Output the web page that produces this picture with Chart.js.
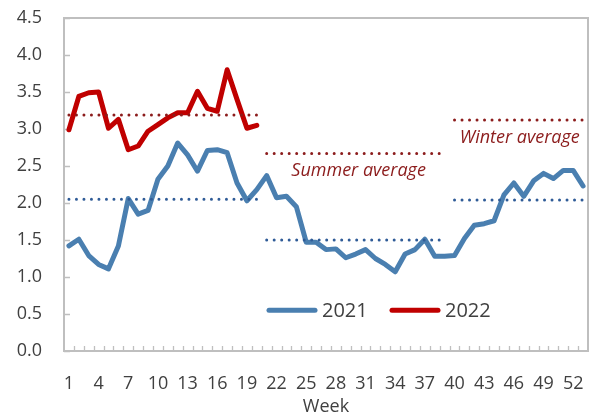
<!DOCTYPE html>
<html>
<head>
<meta charset="utf-8">
<script src="https://cdn.jsdelivr.net/npm/chart.js@4.4.0/dist/chart.umd.min.js"></script>
<style>
html,body{margin:0;padding:0;background:#fff;}
#wrap{width:590px;height:414px;position:relative;}
</style>
</head>
<body>
<div id="wrap"><canvas id="c" width="590" height="414"></canvas></div>
<script>
// ---- Data ----
const weeks = Array.from({length: 53}, (_, i) => String(i + 1));
const series2021 = [1.42,1.51,1.29,1.17,1.11,1.42,2.06,1.85,1.90,2.32,
                    2.50,2.81,2.65,2.43,2.71,2.72,2.68,2.27,2.03,2.18,
                    2.37,2.07,2.09,1.95,1.47,1.47,1.37,1.38,1.26,1.31,
                    1.37,1.25,1.17,1.07,1.31,1.37,1.51,1.28,1.28,1.29,
                    1.52,1.70,1.72,1.76,2.11,2.27,2.09,2.30,2.40,2.33,
                    2.44,2.44,2.23];
const series2022 = [2.99,3.44,3.49,3.50,3.01,3.13,2.72,2.77,2.97,3.06,
                    3.15,3.22,3.22,3.51,3.28,3.24,3.80,3.40,3.01,3.05];
const periodStart = [1, 21, 40];
const periodEnd   = [20, 39, 53];
const avg2021 = [2.05, 1.50, 2.04];
const avg2022 = [3.19, 2.67, 3.12];
const noteText = ["Summer average", "Winter average"];
const noteWeek = [30.3, 46.6];
const noteValue = [2.43, 2.88];
const yTicks = [0, 0.5, 1, 1.5, 2, 2.5, 3, 3.5, 4, 4.5];

const BLUE = '#4a7fb0', RED = '#c00000', DBLUE = '#2f5b97', DRED = '#8c1c1c';
const FONT = "'Open Sans', 'Noto Sans', sans-serif";

function periodData(avgs, p) {
  return weeks.map((w, i) => (i + 1 >= periodStart[p] && i + 1 <= periodEnd[p]) ? avgs[p] : null);
}
const avgSets = [];
for (let p = 0; p < periodStart.length; p++) {
  avgSets.push({label: 'avg2021_' + p, data: periodData(avg2021, p), borderColor: DBLUE,
    borderWidth: 3, borderDash: [0, 7.5], borderCapStyle: 'round', pointRadius: 0, spanGaps: false});
  avgSets.push({label: 'avg2022_' + p, data: periodData(avg2022, p), borderColor: DRED,
    borderWidth: 3, borderDash: [0, 7.5], borderCapStyle: 'round', pointRadius: 0, spanGaps: false});
}

const frame = {
  id: 'frame',
  beforeDatasetsDraw(chart) {
    const {ctx, chartArea: a, scales} = chart;
    ctx.save();
    ctx.strokeStyle = '#bfbfbf';
    ctx.lineWidth = 2;
    ctx.strokeRect(a.left, a.top, a.right - a.left, a.bottom - a.top);
    ctx.lineWidth = 1.3;
    ctx.beginPath();
    scales.y.ticks.forEach(t => {
      const y = Math.round(scales.y.getPixelForValue(t.value)) + 0.5;
      ctx.moveTo(a.left, y); ctx.lineTo(a.left + 6, y);
    });
    const n = weeks.length;
    for (let i = 1; i < n; i++) {
      const x = Math.round((scales.x.getPixelForValue(i - 1) + scales.x.getPixelForValue(i)) / 2) + 0.5;
      ctx.moveTo(x, a.bottom); ctx.lineTo(x, a.bottom - 5);
    }
    ctx.stroke();
    ctx.restore();
  },
  afterDatasetsDraw(chart) {
    const {ctx, chartArea: a, scales} = chart;
    ctx.save();
    ctx.font = "italic 18px " + FONT;
    ctx.fillStyle = DRED;
    ctx.textAlign = 'center';
    ctx.textBaseline = 'middle';
    noteText.forEach((t, i) => {
      const x = scales.x.getPixelForValue(noteWeek[i] - 1);
      const y = scales.y.getPixelForValue(noteValue[i]);
      ctx.fillText(t, x, y);
    });
    const items = [{t: '2021', c: BLUE}, {t: '2022', c: RED}];
    const ly = a.top + (a.bottom - a.top) * 0.878;
    let x = a.left + 203;
    ctx.font = "20px " + FONT;
    ctx.textAlign = 'left';
    items.forEach(it => {
      ctx.strokeStyle = it.c; ctx.lineWidth = 5; ctx.lineCap = 'round';
      ctx.beginPath(); ctx.moveTo(x + 2, ly); ctx.lineTo(x + 48, ly); ctx.stroke();
      ctx.fillStyle = '#404040';
      ctx.fillText(it.t, x + 55, ly + 1);
      x += 123;
    });
    ctx.restore();
  }
};

new Chart(document.getElementById('c'), {
  type: 'line',
  data: {
    labels: weeks,
    datasets: [
      ...avgSets,
      {label: '2022', data: series2022, borderColor: RED, borderWidth: 5, pointRadius: 0,
       borderCapStyle: 'round', borderJoinStyle: 'round', tension: 0},
      {label: '2021', data: series2021, borderColor: BLUE, borderWidth: 5, pointRadius: 0,
       borderCapStyle: 'round', borderJoinStyle: 'round', tension: 0}
    ]
  },
  options: {
    responsive: false,
    animation: false,
    layout: {padding: {top: 18, right: 2, left: 0, bottom: 0}},
    plugins: {legend: {display: false}, tooltip: {enabled: false}},
    scales: {
      x: {
        type: 'category',
        offset: true,
        grid: {display: false, drawTicks: false},
        border: {display: false},
        ticks: {
          autoSkip: false, maxRotation: 0, padding: 22,
          color: '#404040', font: {family: FONT, size: 18},
          callback: function(v, i) { return (i % 3 === 0) ? this.getLabelForValue(v) : ''; }
        },
        title: {display: true, text: 'Week', color: '#404040',
                font: {family: FONT, size: 18, lineHeight: 0.75},
                padding: {top: 0, bottom: 0}},
        afterFit: s => { s.height = 414 - 351; s.paddingLeft = 0; s.paddingRight = 0; }
      },
      y: {
        min: 0, max: 4.5,
        afterBuildTicks: s => { s.ticks = yTicks.map(v => ({value: v})); },
        grid: {display: false, drawTicks: false},
        border: {display: false},
        ticks: {padding: 22, color: '#404040', font: {family: FONT, size: 18},
                callback: v => Number(v).toFixed(1)},
        afterFit: s => { s.width = 64; s.paddingTop = 0; s.paddingBottom = 0; }
      }
    }
  },
  plugins: [frame]
});
</script>
</body>
</html>
